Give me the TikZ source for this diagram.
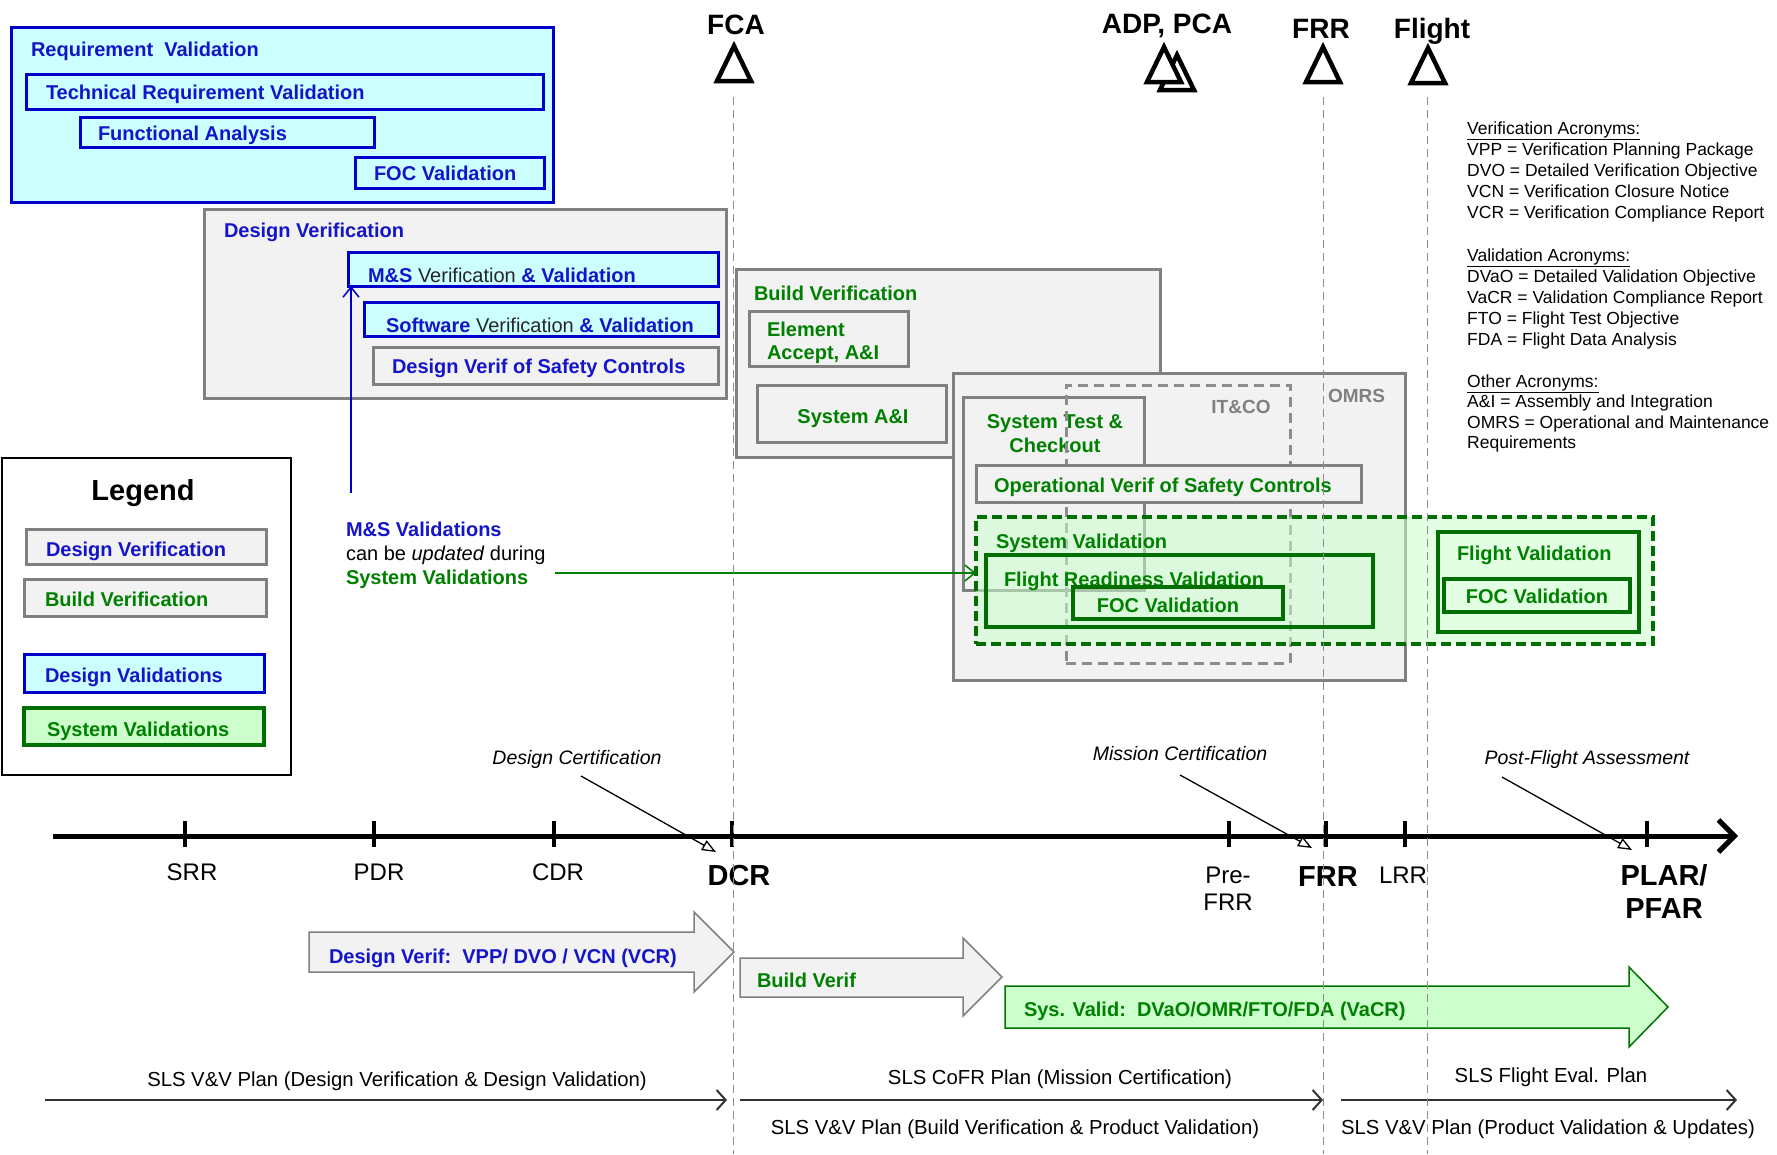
\documentclass[tikz,border=0pt]{standalone}
\usepackage{fontspec}
\setmainfont{Liberation Sans}
\usetikzlibrary{arrows.meta}
\definecolor{bluebd}{RGB}{0,0,204}
\definecolor{bluetx}{RGB}{20,20,200}
\definecolor{cyanfl}{RGB}{204,255,255}
\definecolor{grayfl}{RGB}{242,242,242}
\definecolor{graybd}{RGB}{128,128,128}
\definecolor{greentx}{RGB}{0,128,0}
\definecolor{greenbd}{RGB}{0,110,0}
\definecolor{greenfl}{RGB}{204,255,204}
\definecolor{dashgray}{RGB}{140,140,140}
\definecolor{plangray}{RGB}{50,50,50}
\newcommand\myfs[1]{\fontsize{#1}{#1}\selectfont}
\newcommand\mybox[6]{\node[#2,minimum width={#5-#3},minimum height={#6-#4}] (#1) at (#3,#4) {};}
\begin{document}
\begin{tikzpicture}[x=1pt,y=-1pt,
  bxbase/.style={anchor=north west,inner sep=0pt,outer sep=0pt},
  bluebox/.style={bxbase,draw=bluebd,fill=cyanfl,line width=3pt},
  graybox/.style={bxbase,draw=graybd,fill=grayfl,line width=3pt},
  greenbox/.style={bxbase,draw=greenbd,line width=3.5pt},
  lgreenbox/.style={greenbox,fill=greenfl},
  itcobox/.style={bxbase,draw=graybd!90,line width=3pt,dash pattern=on 10pt off 6pt},
  sysvalbox/.style={bxbase,draw=greenbd,line width=3.5pt,dash pattern=on 10pt off 5pt,fill=greenfl,fill opacity=0.55},
  legbox/.style={bxbase,draw=black,line width=1.5pt},
  txt/.style={inner sep=0pt,outer sep=0pt,anchor=base west,font=\myfs{20}\bfseries},
  bt/.style={txt,text=bluetx},
  gt/.style={txt,text=greentx},
  grt/.style={txt,text=graybd,font=\myfs{19}\bfseries},
  ms/.style={inner sep=0pt,anchor=base,font=\myfs{28}\bfseries},
  tri/.style={line width=4.5pt,line join=miter},
  tick/.style={line width=4pt},
  tl/.style={inner sep=0pt,anchor=base,font=\myfs{24}},
  tlb/.style={inner sep=0pt,anchor=base,font=\myfs{29}\bfseries},
  cert/.style={inner sep=0pt,anchor=base,font=\myfs{19.5}\itshape},
  certarrow/.style={line width=1.3pt,-{Triangle[open,length=14pt,width=11pt]}},
  acr/.style={inner sep=0pt,anchor=base west,font=\myfs{17.5}},
  plan/.style={inner sep=0pt,anchor=base,font=\myfs{20.3}},
  planarrow/.style={line width=2pt,draw=plangray,-{Straight Barb[length=9pt,width=20pt]}},
  fatgray/.style={draw=graybd,fill=grayfl,line width=1.5pt,line join=miter},
  fatgreen/.style={draw=green!45!black,fill=greenfl,line width=1.5pt,line join=miter},
  vdash/.style={draw=dashgray,line width=1pt,dash pattern=on 8pt off 5pt}
]
\useasboundingbox (0,0) rectangle (1777,1154);

% ---------- Requirement validation ----------
\mybox{reqv}{bluebox}{11}{27}{553}{202}
\mybox{techreq}{bluebox}{26}{74}{543}{109}
\mybox{funca}{bluebox}{80}{117}{374}{147}
\mybox{focreq}{bluebox}{355}{157}{544}{188}
\node[bt] (reqvt) at (31,56) {Requirement\ \ Validation};
\node[bt] (techreqt) at (46,99) {Technical Requirement Validation};
\node[bt] (funcat) at (98,140) {Functional Analysis};
\node[bt] (focreqt) at (374,180) {FOC Validation};

% ---------- Design verification ----------
\mybox{designv}{graybox}{204}{209}{726}{398}
\mybox{msvv}{bluebox}{348}{252}{718}{286}
\mybox{swvv}{bluebox}{364}{302}{718}{336}
\mybox{dvsafe}{graybox}{373}{347}{718}{384}
\node[bt] (designvt) at (224,237) {Design Verification};
\node[bt] (msvvt) at (368,282) {M\&S {\mdseries\color{black!85}Verification} \& Validation};
\node[bt] (swvvt) at (386,332) {Software {\mdseries\color{black!85}Verification} \& Validation};
\node[bt] (dvsafet) at (392,373) {Design Verif of Safety Controls};
\coordinate (msstart) at (351,493);
\draw[draw=bluebd,line width=1.5pt,-{Straight Barb[length=10pt,width=16pt]}] (msstart) -- (msstart |- msvv.south);

% ---------- Build verification ----------
\mybox{buildv}{graybox}{736}{269}{1160}{457}
\mybox{elem}{graybox}{749}{311}{908}{366}
\mybox{sysai}{graybox}{757}{385}{946}{442}
\node[gt] (buildvt) at (754,300) {Build Verification};
\node[gt] (elemt1) at (767,336) {Element};
\node[gt] (elemt2) at (767,359) {Accept, A\&I};
\node[gt,anchor=base] (sysait) at (853,423) {System A\&I};

% ---------- OMRS / system test ----------
\mybox{omrs}{graybox}{953}{373}{1405}{680}
\node[grt] (omrst) at (1328,402) {OMRS};
\mybox{systest}{graybox}{963}{397}{1144}{590}
\node[gt,anchor=base] (systestt1) at (1055,428) {System Test \&};
\node[gt,anchor=base] (systestt2) at (1055,452) {Checkout};
\mybox{itco}{itcobox}{1066}{385}{1290}{663}
\node[grt,anchor=base] (itcot) at (1241,413) {IT\&CO};
\mybox{opverif}{graybox}{976}{465}{1361}{502}
\node[gt] (opveriftx) at (994,492) {Operational Verif of Safety Controls};
\mybox{sysval}{sysvalbox}{976}{517}{1653}{644}
\node[gt] (sysvalt) at (996,548) {System Validation};
\mybox{frv}{greenbox}{986}{555}{1373}{627}
\node[gt] (frvt) at (1004,586) {Flight Readiness Validation};
\mybox{foca}{greenbox}{1073}{587}{1283}{619}
\node[gt,anchor=base] (focat) at (1168,612) {FOC Validation};
\mybox{flv}{greenbox}{1438}{532}{1639}{632}
\node[gt] (flvt) at (1457,560) {Flight Validation};
\mybox{focb}{greenbox}{1444}{579}{1630}{612}
\node[gt,anchor=base] (focbt) at (1537,603) {FOC Validation};

% ---------- Legend ----------
\mybox{legend}{legbox}{2}{458}{291}{775}
\node[inner sep=0pt,anchor=base,font=\myfs{29}\bfseries] (legendt) at (143,500) {Legend};
\mybox{lga}{graybox}{26}{529}{266}{564}
\mybox{lgb}{graybox}{24}{579}{266}{616}
\mybox{lgc}{bluebox}{24}{654}{264}{692}
\mybox{lgd}{lgreenbox}{24}{708}{264}{745}
\node[bt] (lgat) at (46,556) {Design Verification};
\node[gt] (lgbt) at (45,606) {Build Verification};
\node[bt] (lgct) at (45,682) {Design Validations};
\node[gt] (lgdt) at (47,736) {System Validations};

% ---------- M&S note ----------
\node[bt] (note1) at (346,536) {M\&S Validations};
\node[txt,font=\myfs{20}] (note2) at (346,560) {can be \textit{updated} during};
\node[gt] (note3) at (346,584) {System Validations};
\coordinate (grstart) at (555,573);
\draw[draw=greentx,line width=1.5pt,-{Straight Barb[length=10pt,width=16pt]}] (grstart) -- (grstart -| sysval.west);

% ---------- Milestone triangles ----------
\node[ms] (fca) at (736,34) {FCA};
\draw[tri] (734,46) -- ++(17,35) -- ++(-34,0) -- cycle;
\node[ms] (adp) at (1167,33) {ADP, PCA};
\draw[tri,fill=white] (1177,55) -- ++(17,35) -- ++(-34,0) -- cycle;
\draw[tri,fill=white] (1164,47) -- ++(17,35) -- ++(-34,0) -- cycle;
\node[ms] (frrm) at (1321,38) {FRR};
\draw[tri] (1323,47) -- ++(17,35) -- ++(-34,0) -- cycle;
\node[ms] (flight) at (1432,38) {Flight};
\draw[tri] (1428,48) -- ++(17,35) -- ++(-34,0) -- cycle;

% ---------- Acronyms ----------
\node[acr] (a1) at (1467,134) {\underline{Verification Acronyms:}};
\node[acr] (a2) at (1467,155) {VPP = Verification Planning Package};
\node[acr] (a3) at (1467,176) {DVO = Detailed Verification Objective};
\node[acr] (a4) at (1467,197) {VCN = Verification Closure Notice};
\node[acr] (a5) at (1467,218) {VCR = Verification Compliance Report};
\node[acr] (a6) at (1467,261) {\underline{Validation Acronyms:}};
\node[acr] (a7) at (1467,282) {DVaO = Detailed Validation Objective};
\node[acr] (a8) at (1467,303) {VaCR = Validation Compliance Report};
\node[acr] (a9) at (1467,324) {FTO = Flight Test Objective};
\node[acr] (a10) at (1467,345) {FDA = Flight Data Analysis};
\node[acr] (a11) at (1467,387) {\underline{Other Acronyms:}};
\node[acr] (a12) at (1467,407) {A\&I = Assembly and Integration};
\node[acr] (a13) at (1467,428) {OMRS = Operational and Maintenance};
\node[acr] (a14) at (1467,448) {Requirements};

% ---------- Timeline ----------
\coordinate (tls) at (53,836);
\coordinate (tle) at (1738,836);
\draw[line width=5pt,-{Straight Barb[length=16pt,width=32pt]}] (tls) -- (tle);
\foreach \x in {185,374,554,732,1229,1326,1405,1647} \draw[tick] (\x,821) -- (\x,847);
\node[tl] (srr) at (192,880) {SRR};
\node[tl] (pdr) at (379,880) {PDR};
\node[tl] (cdr) at (558,880) {CDR};
\node[tlb] (dcr) at (739,885) {DCR};
\node[tl] (pre1) at (1228,883) {Pre-};
\node[tl] (pre2) at (1228,910) {FRR};
\node[tlb] (frrt) at (1328,886) {FRR};
\node[tl] (lrr) at (1403,883) {LRR};
\node[tlb] (plar) at (1664,885) {PLAR/};
\node[tlb] (pfar) at (1664,918) {PFAR};

\node[cert] (dcert) at (577,764) {Design Certification};
\node[cert] (mcert) at (1180,760) {Mission Certification};
\node[cert] (pcert) at (1587,764) {Post-Flight Assessment};
\coordinate (dcs) at (581,776); \coordinate (dce) at (716,852);
\coordinate (mcs) at (1180,775); \coordinate (mce) at (1312,848);
\coordinate (pcs) at (1502,777); \coordinate (pce) at (1632,850);
\draw[certarrow] (dcs) -- (dce);
\draw[certarrow] (mcs) -- (mce);
\draw[certarrow] (pcs) -- (pce);

% ---------- Fat arrows ----------
\draw[fatgray] (309,932) -- (694,932) -- (694,912) -- (734,952) -- (694,992) -- (694,972) -- (309,972) -- cycle;
\node[bt] (dvarr) at (329,963) {Design Verif:\ \ VPP/ DVO / VCN (VCR)};
\draw[fatgray] (740,958) -- (963,958) -- (963,938) -- (1002,977) -- (963,1016) -- (963,997) -- (740,997) -- cycle;
\node[gt] (bvarr) at (757,987) {Build Verif};
\draw[fatgreen] (1005,986) -- (1629,986) -- (1629,967) -- (1668,1007) -- (1629,1047) -- (1629,1028) -- (1005,1028) -- cycle;
\node[gt] (svarr) at (1024,1016) {Sys. Valid:\ \ DVaO/OMR/FTO/FDA (VaCR)};

% ---------- Plans ----------
\coordinate (p1s) at (45,1100); \coordinate (p1e) at (727,1100);
\coordinate (p2s) at (740,1100); \coordinate (p2e) at (1323,1100);
\coordinate (p3s) at (1341,1100); \coordinate (p3e) at (1737,1100);
\draw[planarrow] (p1s) -- (p1e);
\draw[planarrow] (p2s) -- (p2e);
\draw[planarrow] (p3s) -- (p3e);
\node[plan] (pl1) at (397,1086) {SLS V\&V Plan (Design Verification \& Design Validation)};
\node[plan] (pl2) at (1060,1084) {SLS CoFR Plan (Mission Certification)};
\node[plan] (pl3) at (1015,1134) {SLS V\&V Plan (Build Verification \& Product Validation)};
\node[plan] (pl4) at (1551,1082) {SLS Flight Eval. Plan};
\node[plan] (pl5) at (1548,1134) {SLS V\&V Plan (Product Validation \& Updates)};

% ---------- Dashed milestone lines ----------
\draw[vdash] (733,97) -- (733,1154);
\draw[vdash] (1323,97) -- (1323,1154);
\draw[vdash] (1427,97) -- (1427,1154);
\end{tikzpicture}
\end{document}
